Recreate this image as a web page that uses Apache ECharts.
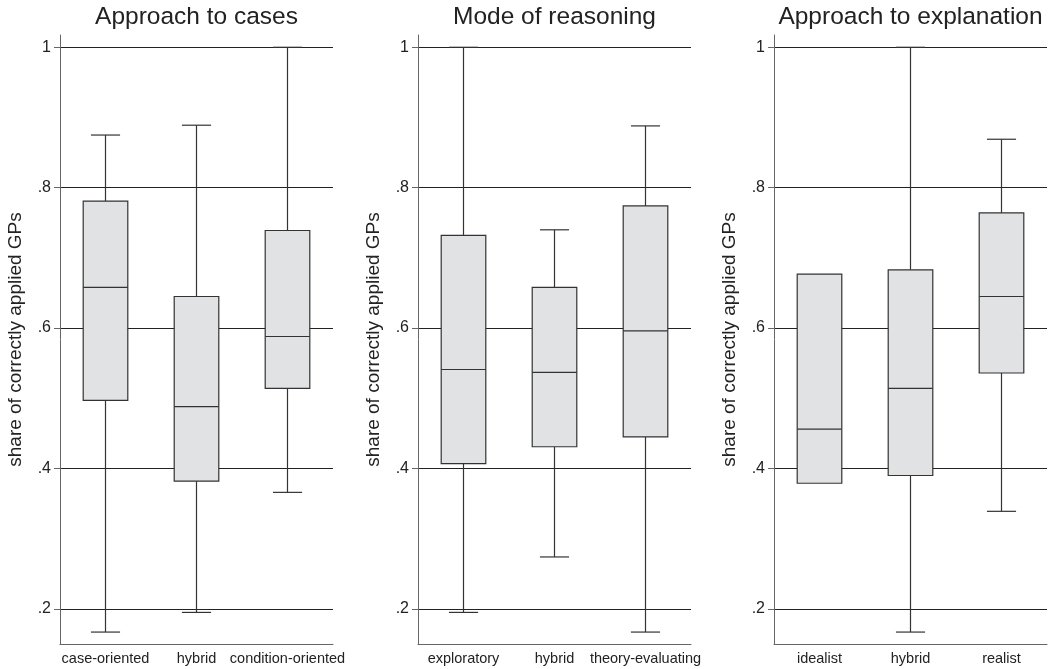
<!DOCTYPE html>
<html>
<head>
<meta charset="utf-8">
<script src="https://cdn.jsdelivr.net/npm/echarts@6/dist/echarts.min.js"></script>
<style>
  html, body { margin: 0; padding: 0; background: #fff; }
  #chart { width: 1052px; height: 669px; }
</style>
</head>
<body>
<div id="chart"></div>
<script>
// panel titles
const panelTitles = ['Approach to cases', 'Mode of reasoning', 'Approach to explanation']

// categories per panel
const casesCats = ['case-oriented', 'hybrid', 'condition-oriented']
const reasoningCats = ['exploratory', 'hybrid', 'theory-evaluating']
const explanationCats = ['idealist', 'hybrid', 'realist']

// box values: [lower whisker, Q1, median, Q3, upper whisker]
const casesBoxes = [
  [0.167, 0.497, 0.658, 0.781, 0.875],
  [0.195, 0.382, 0.488, 0.645, 0.889],
  [0.366, 0.514, 0.588, 0.739, 1.0]
]
const reasoningBoxes = [
  [0.195, 0.407, 0.541, 0.732, 1.0],
  [0.274, 0.431, 0.537, 0.658, 0.740],
  [0.167, 0.445, 0.596, 0.774, 0.888]
]
const explanationBoxes = [
  [0.379, 0.379, 0.456, 0.677, 0.677],
  [0.167, 0.390, 0.514, 0.683, 1.0],
  [0.339, 0.536, 0.645, 0.764, 0.869]
]

// y axis tick labels
const yTicks = [0.2, 0.4, 0.6, 0.8, 1]
const yName = 'share of correctly applied GPs'

const FONT = "'Liberation Sans', Arial, sans-serif"
const myChart = echarts.init(document.getElementById('chart'))

const gridLefts = [60, 418, 774]
const plotWidth = 273

const renderBox = (params, api) => {
  const idx = api.value(0)
  const low = api.coord([idx, api.value(1)])
  const q1 = api.coord([idx, api.value(2)])
  const med = api.coord([idx, api.value(3)])
  const q3 = api.coord([idx, api.value(4)])
  const high = api.coord([idx, api.value(5)])
  const band = api.size([1, 0])[0]
  const bw = band * 0.49
  const cw = band * 0.32
  const cx = med[0]
  const line = { stroke: '#333', lineWidth: 1.2 }
  const children = []
  if (high[1] < q3[1] - 0.5) {
    children.push({ type: 'line', shape: { x1: cx, y1: q3[1], x2: cx, y2: high[1] }, style: line })
    children.push({ type: 'line', shape: { x1: cx - cw / 2, y1: high[1], x2: cx + cw / 2, y2: high[1] }, style: line })
  }
  if (low[1] > q1[1] + 0.5) {
    children.push({ type: 'line', shape: { x1: cx, y1: q1[1], x2: cx, y2: low[1] }, style: line })
    children.push({ type: 'line', shape: { x1: cx - cw / 2, y1: low[1], x2: cx + cw / 2, y2: low[1] }, style: line })
  }
  children.push({
    type: 'rect',
    shape: { x: cx - bw / 2, y: q3[1], width: bw, height: q1[1] - q3[1] },
    style: { fill: '#e1e2e4', stroke: '#333', lineWidth: 1.2 }
  })
  children.push({ type: 'line', shape: { x1: cx - bw / 2, y1: med[1], x2: cx + bw / 2, y2: med[1] }, style: line })
  return { type: 'group', children }
}

const allCats = [casesCats, reasoningCats, explanationCats]
const allBoxes = [casesBoxes, reasoningBoxes, explanationBoxes]

const option = {
  backgroundColor: '#fff',
  animation: false,
  textStyle: { fontFamily: FONT },
  title: panelTitles.map((t, i) => ({
    text: t,
    left: gridLefts[i] + plotWidth / 2,
    top: 5,
    padding: 0,
    textAlign: 'center',
    textStyle: { fontSize: 24.5, fontWeight: 'normal', color: '#222', fontFamily: FONT }
  })),
  grid: gridLefts.map(l => ({ left: l, width: plotWidth, top: 35, bottom: 25 })),
  xAxis: allCats.map((cats, i) => ({
    type: 'category',
    gridIndex: i,
    data: cats,
    boundaryGap: true,
    axisLine: { lineStyle: { color: '#666', width: 1 } },
    axisTick: { show: false },
    axisLabel: { color: '#222', fontSize: 14.5, margin: 7, interval: 0, fontFamily: FONT },
    splitLine: { show: false }
  })),
  yAxis: allCats.map((cats, i) => ({
    type: 'value',
    gridIndex: i,
    min: 0.15,
    max: 1.0175,
    name: yName,
    nameLocation: 'middle',
    nameGap: 35,
    nameTextStyle: { fontSize: 19, color: '#222', fontFamily: FONT },
    axisLine: { show: true, lineStyle: { color: '#666', width: 1 } },
    axisTick: { show: true, length: 6, customValues: yTicks, lineStyle: { color: '#666' } },
    axisLabel: {
      customValues: yTicks,
      margin: 9,
      fontSize: 16,
      color: '#222',
      fontFamily: FONT,
      formatter: v => (v >= 0.999 ? '1' : '.' + Math.round(v * 10))
    },
    splitLine: { show: true, lineStyle: { color: '#222', width: 1 } }
  })),
  series: allBoxes.map((boxes, i) => ({
    type: 'custom',
    xAxisIndex: i,
    yAxisIndex: i,
    renderItem: renderBox,
    encode: { x: 0, y: [1, 2, 3, 4, 5] },
    data: boxes.map((b, k) => [k, ...b])
  }))
}

myChart.setOption(option)
</script>
</body>
</html>
